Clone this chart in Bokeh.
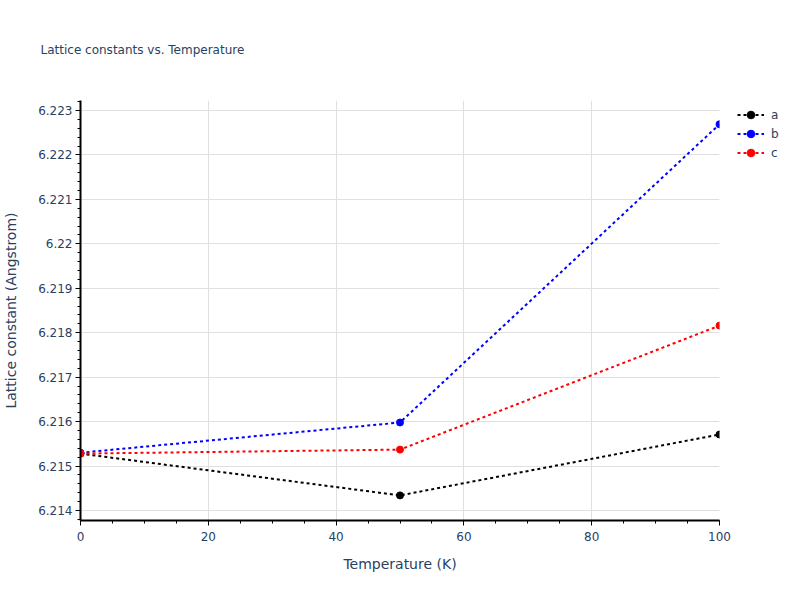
from bokeh.plotting import figure
from bokeh.models import (Range1d, SingleIntervalTicker, CustomJSTickFormatter, Legend, LegendItem)
from bokeh.embed import file_html
from bokeh.resources import INLINE

temperature = [0, 50, 100]
a_vals = [6.21528, 6.21434, 6.21571]
b_vals = [6.21530, 6.21598, 6.22269]
c_vals = [6.21528, 6.21537, 6.21816]
series_names = ["a", "b", "c"]
series_colors = ["black", "blue", "red"]

FONT = "DejaVu Sans"
TXT = "#2a3f5f"

p = figure(frame_width=639, frame_height=420, output_backend="svg", toolbar_location=None,
           x_range=Range1d(0, 100), y_range=Range1d(6.213775, 6.223225),
           min_border_left=72, min_border_right=73, min_border_top=100, min_border_bottom=64)
p.outline_line_color = None
p.background_fill_color = "white"
p.border_fill_color = "white"

p.title.text = "Lattice constants vs. Temperature"
p.title.text_font = FONT
p.title.text_font_size = "12px"
p.title.text_font_style = "normal"
p.title.text_color = TXT
p.title.align = "left"
p.title.offset = -40
p.title.standoff = 84
p.title.vertical_align = "top"

p.xaxis.ticker = SingleIntervalTicker(interval=20, num_minor_ticks=4)
p.yaxis.ticker = SingleIntervalTicker(interval=0.001, num_minor_ticks=5)
p.yaxis.formatter = CustomJSTickFormatter(code="return String(Number(tick.toFixed(3)));")

for ax in (p.xaxis[0], p.yaxis[0]):
    ax.axis_line_color = "black"
    ax.axis_line_width = 2
    ax.major_tick_line_color = "black"
    ax.minor_tick_line_color = "black"
    ax.major_tick_out = 5
    ax.major_tick_in = 0
    ax.minor_tick_out = 3
    ax.minor_tick_in = 0
    ax.major_label_text_font = FONT
    ax.major_label_text_font_size = "12px"
    ax.major_label_text_color = TXT
    ax.axis_label_text_font = FONT
    ax.axis_label_text_font_size = "14px"
    ax.axis_label_text_font_style = "normal"
    ax.axis_label_text_color = TXT

p.xaxis.axis_label = "Temperature (K)"
p.yaxis.axis_label = "Lattice constant (Angstrom)"
p.xaxis.major_label_standoff = 6
p.xaxis.axis_label_standoff = 12
p.yaxis.major_label_standoff = 3
p.yaxis.axis_label_standoff = 16

p.grid.grid_line_color = "#e0e0e0"
p.grid.grid_line_width = 1

items = []
for name, vals, col in zip(series_names, [a_vals, b_vals, c_vals], series_colors):
    ln = p.line(temperature, vals, line_color=col, line_width=2, line_dash="3 3")
    sc = p.scatter(temperature, vals, size=7, fill_color=col, line_color=col)
    items.append(LegendItem(label=name, renderers=[ln, sc]))

legend = Legend(items=items, location=(18, 358), padding=0, margin=0, spacing=0,
                label_height=19, glyph_height=19, glyph_width=27, label_standoff=7,
                label_text_font=FONT, label_text_font_size="12px", label_text_color=TXT,
                border_line_color=None, background_fill_alpha=0)
p.add_layout(legend, "right")

open("out.html", "w").write(file_html(p, INLINE))
